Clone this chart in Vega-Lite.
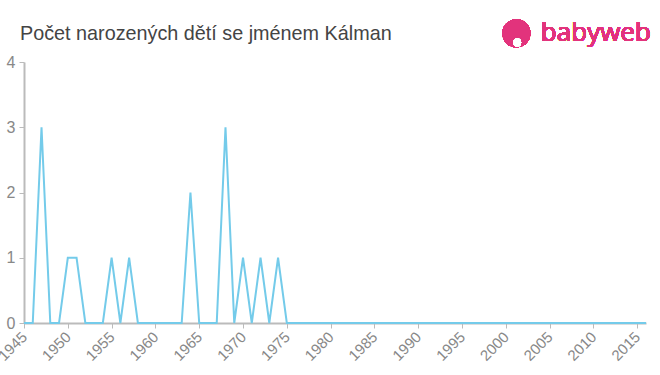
{
  "$schema": "https://vega.github.io/schema/vega-lite/v6.json",
  "width": 622,
  "height": 261,
  "autosize": {"type": "none"},
  "padding": {"left": 24, "top": 62, "right": 14, "bottom": 52},
  "background": "white",
  "title": {
    "text": "Počet narozených dětí se jménem Kálman",
    "anchor": "start",
    "frame": "group",
    "dx": -4,
    "offset": 0,
    "dy": 40,
    "baseline": "alphabetic",
    "font": "Liberation Sans",
    "fontSize": 19.8,
    "fontWeight": "normal",
    "color": "#444444"
  },
  "config": {
    "view": {"stroke": null},
    "axis": {
      "grid": false,
      "domainColor": "#bbbbbb",
      "domainWidth": 2,
      "tickColor": "#bbbbbb",
      "tickWidth": 1,
      "tickSize": 5,
      "labelColor": "#888888",
      "labelFont": "Liberation Sans",
      "titleFont": "Liberation Sans"
    }
  },
  "data": {
    "values": [
      {"year": 1945, "count": 0}, {"year": 1946, "count": 0}, {"year": 1947, "count": 3},
      {"year": 1948, "count": 0}, {"year": 1949, "count": 0}, {"year": 1950, "count": 1},
      {"year": 1951, "count": 1}, {"year": 1952, "count": 0}, {"year": 1953, "count": 0},
      {"year": 1954, "count": 0}, {"year": 1955, "count": 1}, {"year": 1956, "count": 0},
      {"year": 1957, "count": 1}, {"year": 1958, "count": 0}, {"year": 1959, "count": 0},
      {"year": 1960, "count": 0}, {"year": 1961, "count": 0}, {"year": 1962, "count": 0},
      {"year": 1963, "count": 0}, {"year": 1964, "count": 2}, {"year": 1965, "count": 0},
      {"year": 1966, "count": 0}, {"year": 1967, "count": 0}, {"year": 1968, "count": 3},
      {"year": 1969, "count": 0}, {"year": 1970, "count": 1}, {"year": 1971, "count": 0},
      {"year": 1972, "count": 1}, {"year": 1973, "count": 0}, {"year": 1974, "count": 1},
      {"year": 1975, "count": 0}, {"year": 1976, "count": 0}, {"year": 1977, "count": 0},
      {"year": 1978, "count": 0}, {"year": 1979, "count": 0}, {"year": 1980, "count": 0},
      {"year": 1981, "count": 0}, {"year": 1982, "count": 0}, {"year": 1983, "count": 0},
      {"year": 1984, "count": 0}, {"year": 1985, "count": 0}, {"year": 1986, "count": 0},
      {"year": 1987, "count": 0}, {"year": 1988, "count": 0}, {"year": 1989, "count": 0},
      {"year": 1990, "count": 0}, {"year": 1991, "count": 0}, {"year": 1992, "count": 0},
      {"year": 1993, "count": 0}, {"year": 1994, "count": 0}, {"year": 1995, "count": 0},
      {"year": 1996, "count": 0}, {"year": 1997, "count": 0}, {"year": 1998, "count": 0},
      {"year": 1999, "count": 0}, {"year": 2000, "count": 0}, {"year": 2001, "count": 0},
      {"year": 2002, "count": 0}, {"year": 2003, "count": 0}, {"year": 2004, "count": 0},
      {"year": 2005, "count": 0}, {"year": 2006, "count": 0}, {"year": 2007, "count": 0},
      {"year": 2008, "count": 0}, {"year": 2009, "count": 0}, {"year": 2010, "count": 0},
      {"year": 2011, "count": 0}, {"year": 2012, "count": 0}, {"year": 2013, "count": 0},
      {"year": 2014, "count": 0}, {"year": 2015, "count": 0}, {"year": 2016, "count": 0}
    ]
  },
  "layer": [
    {
      "mark": {"type": "line", "color": "#74cbea", "strokeWidth": 2, "clip": false},
      "encoding": {
        "x": {
          "field": "year",
          "type": "quantitative",
          "scale": {"domain": [1945, 2016], "nice": false, "zero": false},
          "axis": {
            "title": null,
            "values": [1945, 1950, 1955, 1960, 1965, 1970, 1975, 1980, 1985, 1990, 1995, 2000, 2005, 2010, 2015],
            "format": "d",
            "labelAngle": 315,
            "labelAlign": "right",
            "labelBaseline": "middle",
            "labelFontSize": 15,
            "labelPadding": 6,
            "labelOverlap": false,
            "labelBound": false,
            "labelFlush": false
          }
        },
        "y": {
          "field": "count",
          "type": "quantitative",
          "scale": {"domain": [0, 4], "nice": false},
          "axis": {
            "title": null,
            "values": [0, 1, 2, 3, 4],
            "format": "d",
            "labelFontSize": 16,
            "labelPadding": 4
          }
        }
      }
    },
    {
      "mark": {"type": "point", "filled": true, "color": "#e2337c", "size": 780, "opacity": 1, "clip": false},
      "encoding": {
        "x": {"datum": 2001.2, "type": "quantitative"},
        "y": {"datum": 4.44, "type": "quantitative"}
      }
    },
    {
      "mark": {"type": "point", "filled": true, "color": "white", "size": 60, "opacity": 1, "clip": false},
      "encoding": {
        "x": {"datum": 2001.3, "type": "quantitative"},
        "y": {"datum": 4.3, "type": "quantitative"}
      }
    },
    {
      "mark": {"type": "text", "text": "babyweb", "color": "#e2337c", "font": "Open Sans", "fontSize": 26, "align": "left", "baseline": "middle", "clip": false},
      "encoding": {
        "x": {"datum": 2004, "type": "quantitative"},
        "y": {"datum": 4.44, "type": "quantitative"}
      }
    }
  ]
}
